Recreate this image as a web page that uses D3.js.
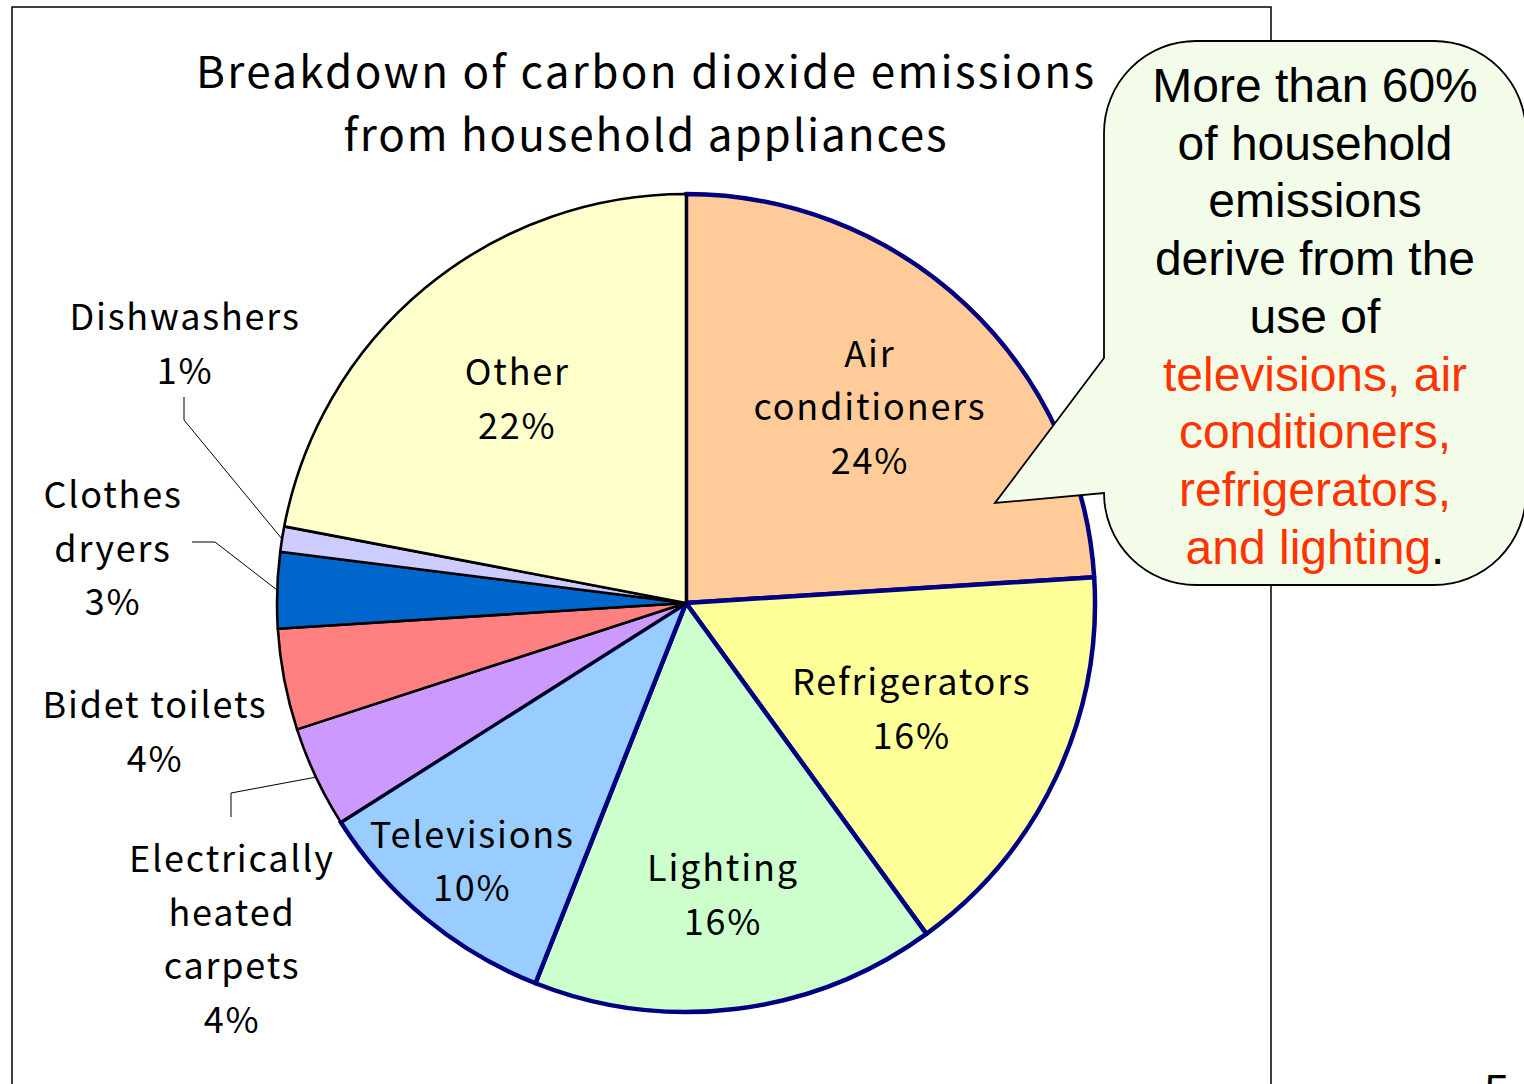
<!DOCTYPE html>
<html>
<head>
<meta charset="utf-8">
<script src="https://cdn.jsdelivr.net/npm/d3@7"></script>
<style>
  html, body { margin: 0; padding: 0; background: #fff; }
  svg { display: block; }
</style>
</head>
<body>
<svg id="chart" width="1524" height="1084"></svg>
<script>
// ---- data ----
const categories = ["Air conditioners", "Refrigerators", "Lighting", "Televisions",
  "Electrically heated carpets", "Bidet toilets", "Clothes dryers", "Dishwashers", "Other"];
const values = [24, 16, 16, 10, 4, 4, 3, 1, 22];
const labelLines = [
  ["Air", "conditioners", "24%"],
  ["Refrigerators", "16%"],
  ["Lighting", "16%"],
  ["Televisions", "10%"],
  ["Electrically", "heated", "carpets", "4%"],
  ["Bidet toilets", "4%"],
  ["Clothes", "dryers", "3%"],
  ["Dishwashers", "1%"],
  ["Other", "22%"]
];
const highlighted = ["Air conditioners", "Refrigerators", "Lighting", "Televisions"];
const titleLines = ["Breakdown of carbon dioxide emissions", "from household appliances"];
const calloutLines = [
  [{t: "More than 60%", red: false}],
  [{t: "of household", red: false}],
  [{t: "emissions", red: false}],
  [{t: "derive from the", red: false}],
  [{t: "use of", red: false}],
  [{t: "televisions, air", red: true}],
  [{t: "conditioners,", red: true}],
  [{t: "refrigerators,", red: true}],
  [{t: "and lighting", red: true}, {t: ".", red: false}]
];

// ---- styles / layout ----
const colors = ["#FFCC99", "#FFFF99", "#CCFFCC", "#99CCFF", "#CC99FF", "#FF8080", "#0066CC", "#CCCCFF", "#FFFFCC"];
const cx = 686, cy = 603, R = 409;
const labelFont = "'Noto Sans CJK JP', 'Noto Sans', sans-serif";
const titleWidths = [898, 603];
const insideRadius = {"Air conditioners": 0.657, "Refrigerators": 0.61, "Lighting": 0.72, "Televisions": 0.82, "Other": 0.647};
const outsideAnchor = {
  "Dishwashers": {x: 185, y: 330, leader: [[184, 420], [184, 397]]},
  "Clothes dryers": {x: 113, y: 508, leader: [[215, 542], [192, 542]]},
  "Bidet toilets": {x: 155, y: 718, leader: null},
  "Electrically heated carpets": {x: 232, y: 872, leader: [[231, 793], [231, 817]]}
};
const lineH = 53.5;
const labelSpacing = 1.8;

const svg = d3.select("#chart");

// frame
svg.append("rect")
  .attr("x", 12).attr("y", 7).attr("width", 1259).attr("height", 1100)
  .attr("fill", "none").attr("stroke", "#000").attr("stroke-width", 1.5);

// title
svg.append("g").selectAll("text").data(titleLines).join("text")
  .attr("x", 645).attr("y", (d, i) => 88 + i * 63)
  .attr("text-anchor", "middle")
  .attr("font-family", labelFont).attr("font-size", 44)
  .attr("textLength", (d, i) => titleWidths[i])
  .attr("lengthAdjust", "spacing")
  .attr("fill", "#000")
  .text(d => d);

// pie
const pie = d3.pie().sort(null).value(d => d.v);
const arcs = pie(categories.map((c, i) => ({c, v: values[i], i})));
const arc = d3.arc().innerRadius(0).outerRadius(R);
const g = svg.append("g").attr("transform", `translate(${cx},${cy})`);
g.selectAll("path").data(arcs).join("path")
  .attr("d", arc)
  .attr("fill", d => colors[d.data.i])
  .attr("stroke", d => highlighted.includes(d.data.c) ? "#000080" : "#000")
  .attr("stroke-width", d => highlighted.includes(d.data.c) ? 4.5 : 2.6)
  .attr("stroke-linejoin", "round");

function addLabel(x, yFirst, lines) {
  svg.append("g").selectAll("text").data(lines).join("text")
    .attr("x", x).attr("y", (t, k) => yFirst + k * lineH)
    .attr("text-anchor", "middle")
    .attr("font-family", labelFont).attr("font-size", 36)
    .attr("letter-spacing", labelSpacing)
    .attr("fill", "#000")
    .text(t => t);
}

// inside labels
arcs.filter(d => insideRadius[d.data.c] !== undefined).forEach(d => {
  const mid = (d.startAngle + d.endAngle) / 2;
  const r = R * insideRadius[d.data.c];
  const x = cx + r * Math.sin(mid);
  const y = cy - r * Math.cos(mid);
  const lines = labelLines[d.data.i];
  addLabel(x, y - (lines.length - 1) * lineH / 2 + 13, lines);
});

// outside labels + leaders
arcs.filter(d => outsideAnchor[d.data.c] !== undefined).forEach(d => {
  const a = outsideAnchor[d.data.c];
  addLabel(a.x, a.y, labelLines[d.data.i]);
  if (a.leader) {
    const mid = (d.startAngle + d.endAngle) / 2;
    const p = [cx + R * Math.sin(mid), cy - R * Math.cos(mid)];
    svg.append("path")
      .attr("d", d3.line()([p, ...a.leader]))
      .attr("fill", "none").attr("stroke", "#000").attr("stroke-width", 1);
  }
});

// callout bubble
const x0 = 1104, x1 = 1526, y0 = 41, y1 = 585, rr = 92;
const bubble = d3.path();
bubble.moveTo(x0 + rr, y0);
bubble.lineTo(x1 - rr, y0);
bubble.arcTo(x1, y0, x1, y0 + rr, rr);
bubble.lineTo(x1, y1 - rr);
bubble.arcTo(x1, y1, x1 - rr, y1, rr);
bubble.lineTo(x0 + rr, y1);
bubble.arcTo(x0, y1, x0, y1 - rr, rr);
bubble.lineTo(x0, 493);
bubble.lineTo(995, 503);
bubble.lineTo(x0, 358);
bubble.lineTo(x0, y0 + rr);
bubble.arcTo(x0, y0, x0 + rr, y0, rr);
bubble.closePath();
svg.append("path").attr("d", bubble.toString())
  .attr("fill", "#F2FCE9").attr("stroke", "#000").attr("stroke-width", 1.8);

const ct = svg.append("g").selectAll("text").data(calloutLines).join("text")
  .attr("x", 1315).attr("y", (d, i) => 102 + i * 57.7)
  .attr("text-anchor", "middle")
  .attr("font-family", "'Liberation Sans', Arial, sans-serif").attr("font-size", 48);
ct.selectAll("tspan").data(d => d).join("tspan")
  .attr("fill", s => s.red ? "#FF3300" : "#000")
  .text(s => s.t);

// page number (partly off the bottom edge, as in the reference)
svg.append("text").attr("x", 1497).attr("y", 1106)
  .attr("text-anchor", "middle")
  .attr("font-family", "'Liberation Sans', Arial, sans-serif").attr("font-size", 44)
  .attr("fill", "#000").text("5");
</script>
</body>
</html>
